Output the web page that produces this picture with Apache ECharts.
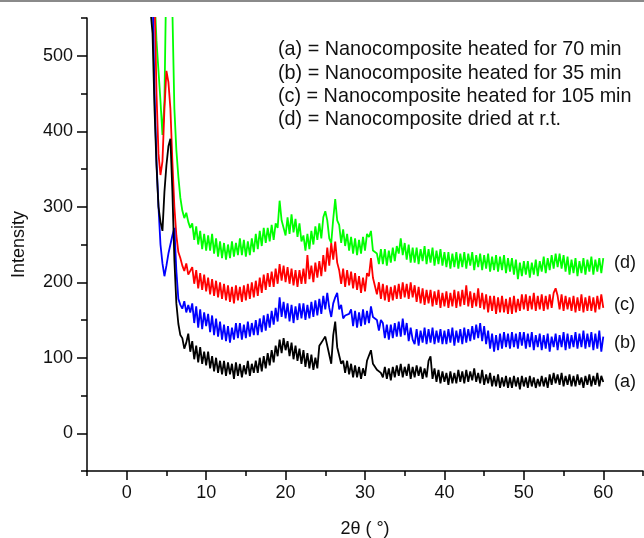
<!DOCTYPE html>
<html>
<head>
<meta charset="utf-8">
<script src="https://cdn.jsdelivr.net/npm/echarts@6/dist/echarts.min.js"></script>
<style>
html, body { margin: 0; padding: 0; background: #fff; }
#chart { width: 644px; height: 538px; }
</style>
</head>
<body>
<div id="chart"></div>
<script>
// 2θ sampling: 0.25° steps from 3° to 60°
const twoTheta = [];
for (let x = 3; x <= 60; x += 0.25) twoTheta.push(x);

// (a) heated 70 min - black
const seriesA = [
  // 3.0 - 8.0
  560, 530, 430, 355, 300, 280, 268, 320, 355, 380, 390, 320, 230, 172, 145, 130, 126, 112, 120, 132, 108,
  // 8.25 - 60, one row per 2 degrees
  122, 98, 116, 94, 114, 92, 108, 90,
  108, 86, 102, 82, 100, 80, 96, 78,
  96, 76, 94, 78, 92, 72, 94, 76,
  92, 74, 90, 78, 96, 76, 92, 80,
  96, 80, 100, 82, 102, 86, 106, 90,
  110, 94, 116, 102, 124, 106, 126, 110,
  122, 102, 120, 98, 116, 96, 112, 92,
  110, 88, 106, 86, 104, 84, 100, 86,
  116, 120, 124, 128, 126, 104, 92, 130,
  148, 114, 112, 92, 96, 80, 96, 78,
  92, 74, 90, 74, 88, 72, 86, 76,
  96, 98, 110, 92, 90, 84, 84, 80,
  74, 88, 72, 86, 70, 88, 74, 90,
  76, 92, 74, 88, 76, 92, 72, 88,
  74, 90, 76, 88, 72, 86, 74, 96,
  102, 72, 86, 68, 84, 66, 82, 68,
  80, 64, 82, 66, 80, 66, 84, 68,
  82, 66, 84, 68, 82, 70, 86, 68,
  80, 66, 84, 64, 78, 66, 80, 62,
  76, 62, 78, 60, 74, 62, 76, 60,
  74, 60, 76, 62, 74, 58, 76, 62,
  74, 60, 76, 62, 74, 60, 72, 62,
  76, 62, 74, 60, 78, 64, 80, 66,
  78, 64, 80, 62, 76, 64, 78, 62,
  76, 62, 78, 64, 74, 60, 76, 64,
  78, 62, 76, 64, 80, 62, 76, 68
];
// (b) heated 35 min - blue
const seriesB = [
  null, 590, 450, 360, 300, 250, 225, 208, 222, 238, 250, 262, 272, 215, 178, 170, 165, 175, 160, 170, 160,
  172, 146, 168, 140, 164, 138, 160, 142,
  158, 134, 156, 130, 152, 128, 148, 124,
  144, 122, 142, 120, 140, 124, 146, 126,
  146, 124, 144, 126, 148, 128, 146, 130,
  150, 130, 152, 134, 156, 136, 158, 140,
  162, 144, 166, 148, 180, 154, 174, 152,
  172, 148, 170, 146, 168, 150, 172, 152,
  172, 150, 170, 152, 174, 154, 176, 156,
  178, 158, 182, 164, 186, 166, 154, 172,
  180, 186, 164, 170, 152, 156, 154, 158,
  164, 142, 162, 140, 160, 142, 164, 144,
  162, 146, 168, 154, 156, 150, 136, 150,
  146, 126, 144, 124, 144, 126, 146, 128,
  148, 128, 152, 130, 146, 122, 140, 124,
  118, 138, 116, 136, 120, 140, 118, 138,
  120, 140, 118, 136, 120, 138, 118, 136,
  118, 138, 120, 140, 116, 136, 120, 138,
  118, 140, 120, 138, 122, 142, 124, 144,
  126, 146, 122, 142, 118, 136, 112, 132,
  108, 130, 110, 132, 112, 134, 114, 132,
  112, 134, 114, 132, 112, 134, 116, 134,
  112, 132, 114, 134, 110, 130, 114, 132,
  110, 130, 112, 132, 108, 128, 114, 132,
  110, 130, 114, 134, 110, 132, 112, 130,
  114, 134, 112, 132, 114, 136, 112, 132,
  114, 134, 110, 132, 112, 136, 108, 128
];
// (c) heated 105 min - red
const seriesC = [
  null, null, 580, 450, 370, 342, 360, 430, 480, 465, 430, 360, 300, 262, 240, 232, 222, 215, 225, 210, 212,
  220, 198, 216, 192, 212, 190, 210, 188,
  206, 184, 204, 182, 202, 180, 200, 178,
  198, 176, 196, 174, 194, 172, 196, 176,
  194, 174, 196, 176, 198, 178, 200, 180,
  202, 182, 206, 186, 210, 190, 212, 194,
  214, 194, 218, 198, 224, 202, 222, 200,
  220, 198, 218, 196, 216, 194, 216, 198,
  218, 198, 236, 204, 222, 200, 226, 206,
  228, 208, 236, 214, 246, 222, 252, 230,
  254, 226, 216, 198, 218, 194, 216, 196,
  214, 192, 212, 190, 208, 186, 206, 188,
  212, 208, 232, 206, 206, 184, 200, 178,
  198, 176, 196, 174, 194, 176, 196, 178,
  198, 178, 200, 180, 198, 178, 200, 180,
  196, 174, 194, 172, 192, 170, 190, 172,
  190, 168, 188, 170, 190, 166, 186, 168,
  188, 166, 186, 168, 190, 166, 188, 168,
  190, 170, 196, 168, 188, 166, 186, 168,
  192, 166, 186, 164, 184, 160, 182, 162,
  182, 158, 180, 160, 182, 160, 178, 158,
  180, 158, 182, 160, 178, 162, 184, 164,
  184, 162, 182, 164, 186, 162, 182, 164,
  184, 162, 182, 164, 184, 166, 186, 192,
  182, 164, 184, 162, 182, 164, 180, 162,
  182, 160, 180, 162, 184, 160, 180, 162,
  182, 162, 180, 160, 182, 164, 184, 166
];
// (d) dried at r.t. - green
const seriesD = [
  null, null, 580, 520, 480, 440, 395, 440, 620, 660, 640, 560, 430, 375, 340, 312, 295, 285, 292, 280, 272,
  278, 256, 274, 250, 268, 244, 264, 242,
  262, 242, 264, 238, 258, 234, 254, 232,
  252, 230, 250, 232, 254, 234, 252, 236,
  258, 236, 256, 234, 254, 236, 258, 240,
  264, 244, 268, 248, 272, 252, 272, 254,
  276, 256, 278, 272, 308, 282, 282, 262,
  286, 264, 290, 266, 284, 260, 278, 254,
  262, 242, 264, 244, 268, 250, 274, 256,
  278, 258, 286, 294, 282, 258, 252, 284,
  310, 282, 276, 252, 270, 248, 264, 242,
  260, 238, 258, 236, 256, 238, 260, 242,
  264, 260, 268, 242, 244, 238, 224, 244,
  224, 244, 222, 242, 226, 246, 228, 248,
  238, 258, 236, 252, 230, 250, 226, 246,
  226, 246, 224, 244, 228, 248, 224, 244,
  226, 246, 222, 242, 224, 244, 222, 240,
  220, 240, 218, 238, 220, 240, 218, 238,
  220, 240, 218, 238, 222, 240, 216, 236,
  220, 238, 216, 236, 218, 238, 214, 234,
  216, 236, 214, 234, 216, 236, 212, 232,
  214, 232, 210, 230, 204, 226, 208, 228,
  210, 228, 206, 226, 210, 230, 208, 228,
  214, 234, 212, 232, 216, 236, 218, 238,
  220, 238, 218, 236, 214, 234, 210, 230,
  212, 232, 208, 228, 212, 232, 210, 230,
  214, 234, 210, 230, 214, 232, 212, 232
];

const legendLines = [
  '(a) = Nanocomposite heated for 70 min',
  '(b) = Nanocomposite heated for 35 min',
  '(c) = Nanocomposite heated for 105 min',
  '(d) = Nanocomposite dried at r.t.'
];
const curveTags = ['(a)', '(b)', '(c)', '(d)'];
const curveColors = ['#000000', '#0000ff', '#ff0000', '#00ff00'];
const xMajor = [0, 10, 20, 30, 40, 50, 60];
const xMinor = [-5, 5, 15, 25, 35, 45, 55, 65];
const yMajor = [0, 100, 200, 300, 400, 500];
const yMinor = [-50, 50, 150, 250, 350, 450, 550];

const font = 'Liberation Sans, Arial, Helvetica, sans-serif';

function pairs(vals) {
  return twoTheta.map((x, i) => [x, vals[i]]);
}

const chart = echarts.init(document.getElementById('chart'));

const legendY = [50, 74, 97, 120];
const tagY = [382, 343, 305, 263];
const graphics = [
  { type: 'rect', shape: { x: 0, y: 0, width: 644, height: 2 }, style: { fill: '#8a8a8a' } }
];
legendLines.forEach((t, i) => {
  graphics.push({
    type: 'text', x: 278, y: legendY[i],
    style: { text: t, fontSize: 19.8, fontFamily: font, fill: '#111', verticalAlign: 'middle' }
  });
});
curveTags.forEach((t, i) => {
  graphics.push({
    type: 'text', x: 614, y: tagY[i],
    style: { text: t, fontSize: 18, fontFamily: font, fill: '#111', verticalAlign: 'middle' }
  });
});

const axisLineStyle = { color: '#000', width: 1.5 };
const seriesData = [seriesA, seriesB, seriesC, seriesD];

const option = {
  animation: false,
  backgroundColor: '#fff',
  grid: { left: 87, right: 1, top: 18, bottom: 67, outerBoundsMode: 'none' },
  xAxis: [
    {
      type: 'value', min: -5, max: 65, position: 'bottom',
      axisLine: { onZero: false, lineStyle: axisLineStyle },
      axisTick: { customValues: xMajor, length: 9, lineStyle: axisLineStyle },
      axisLabel: { customValues: xMajor, fontSize: 18, fontFamily: font, color: '#111', margin: 13 },
      splitLine: { show: false },
      name: '2θ ( °)', nameLocation: 'middle', nameGap: 49,
      nameTextStyle: { fontSize: 18, fontFamily: font, color: '#111' }
    },
    {
      type: 'value', min: -5, max: 65, position: 'bottom',
      axisLine: { show: false, onZero: false },
      axisTick: { customValues: xMinor, length: 5, lineStyle: axisLineStyle },
      axisLabel: { show: false },
      splitLine: { show: false }
    }
  ],
  yAxis: [
    {
      type: 'value', min: -50, max: 550, position: 'left',
      axisLine: { show: true, onZero: false, lineStyle: axisLineStyle },
      axisTick: { show: true, customValues: yMajor, length: 10, lineStyle: axisLineStyle },
      axisLabel: { customValues: yMajor, fontSize: 18, fontFamily: font, color: '#111', margin: 14 },
      splitLine: { show: false },
      name: 'Intensity', nameLocation: 'middle', nameGap: 59, nameRotate: 90,
      nameTextStyle: { fontSize: 18, fontFamily: font, color: '#111' }
    },
    {
      type: 'value', min: -50, max: 550, position: 'left',
      axisLine: { show: false, onZero: false },
      axisTick: { show: true, customValues: yMinor, length: 6, lineStyle: axisLineStyle },
      axisLabel: { show: false },
      splitLine: { show: false }
    }
  ],
  series: seriesData.map((vals, i) => ({
    name: curveTags[i],
    type: 'line',
    xAxisIndex: 0,
    yAxisIndex: 0,
    data: pairs(vals),
    showSymbol: false,
    symbol: 'none',
    connectNulls: false,
    z: 10 - i,
    lineStyle: { color: curveColors[i], width: 1.8 },
    itemStyle: { color: curveColors[i] }
  })).reverse(),
  graphic: graphics
};

chart.setOption(option);
</script>
</body>
</html>
